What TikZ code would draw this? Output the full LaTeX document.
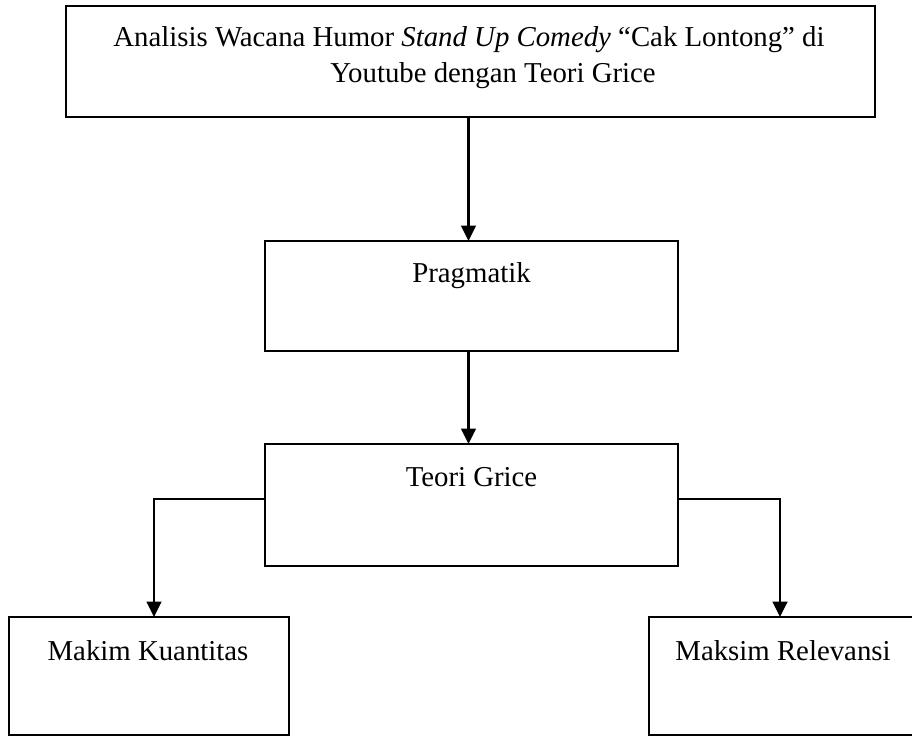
\documentclass[tikz,border=0pt]{standalone}
\usepackage{fontspec}
\setmainfont{Liberation Serif}
\usetikzlibrary{arrows.meta}
\tikzset{
  box/.style={draw, line width=1.5pt, rectangle, inner sep=0pt, outer sep=0pt},
  txt/.style={anchor=base, inner sep=0pt, font=\fontsize{21.6}{25}\selectfont},
  arr/.style={line width=1.7pt, -{Triangle[width=11pt,length=11.5pt]}}
}
\begin{document}
\begin{tikzpicture}[x=0.75pt,y=-0.75pt]
\clip (0,0) rectangle (912,736);
\fill[white] (0,0) rectangle (912,736);
% boxes
\node[box, minimum width=606.75pt, minimum height=83.25pt] (top) at (470.5,61.5) {};
\node[box, minimum width=309.75pt, minimum height=82.5pt] (prag) at (471.5,296) {};
\node[box, minimum width=309.75pt, minimum height=91.5pt] (teori) at (471.5,505) {};
\node[box, minimum width=210pt, minimum height=88.5pt] (makim) at (149,676) {};
\node[box, minimum width=201pt, minimum height=88.5pt] (maksim) at (783,676) {};
% texts
\node[txt] (t1) at (469,46) {Analisis Wacana Humor \textit{Stand Up Comedy} “Cak Lontong” di};
\node[txt] (t2) at (493,82) {Youtube dengan Teori Grice};
\node[txt] (tp) at (471.5,282) {Pragmatik};
\node[txt] (tt) at (471.5,486) {Teori Grice};
\node[txt] (tm) at (148,660) {Makim Kuantitas};
\node[txt] (tr) at (783,660) {Maksim Relevansi};
% connectors
\draw[arr] ([xshift=-2.25pt]top.south -| prag.north) -- ([xshift=-2.25pt]prag.north);
\draw[arr] ([xshift=-2.25pt]prag.south) -- ([xshift=-2.25pt]teori.north);
\draw[arr] ([yshift=4.5pt]teori.west) -| ([xshift=3.75pt]makim.north);
\draw[arr] ([yshift=4.5pt]teori.east) -| ([xshift=-2.25pt]maksim.north);
\end{tikzpicture}
\end{document}
